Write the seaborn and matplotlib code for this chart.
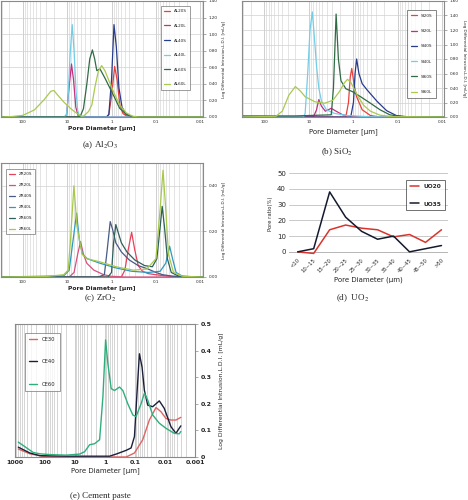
import matplotlib
matplotlib.use("Agg")
import matplotlib.pyplot as plt
import matplotlib.ticker as mticker
import numpy as np
import pandas as pd
import seaborn as sns

# ---- (a) Al2O3 : pore diameter [um] -> L.D.I. [mL/g]
AL_CURVES = {
    "AL20S": ([312, 1.3, 1.15, 1.0, 0.85, 0.75, 0.65, 0.55, 0.45, 0.35, 0.0086],
              [0, 0, 0.03, 0.25, 0.61, 0.45, 0.15, 0.04, 0.01, 0, 0]),
    "AL20L": ([312, 11.5, 10.3, 9.3, 8.0, 7.2, 6.4, 5.7, 5.0, 0.0086],
              [0, 0, 0.03, 0.3, 0.64, 0.45, 0.12, 0.02, 0, 0]),
    "AL40S": ([312, 1.3, 1.15, 1.0, 0.88, 0.78, 0.68, 0.58, 0.48, 0.38, 0.3, 0.0086],
              [0, 0, 0.03, 0.45, 1.115, 0.85, 0.35, 0.12, 0.04, 0.01, 0, 0]),
    "AL40L": ([312, 11.5, 10.5, 9.6, 8.6, 7.7, 7.0, 6.3, 5.8, 5.3, 4.5, 0.0086],
              [0, 0, 0.02, 0.2, 0.75, 1.115, 0.8, 0.3, 0.08, 0.01, 0, 0]),
    "AL60S": ([312, 6, 5.06, 4.3, 3.6, 3.1, 2.7, 2.4, 2.15, 1.82, 1.41, 1.09, 0.845, 0.655, 0.465, 0.337, 0.25, 0.0086],
              [0, 0, 0.01, 0.1, 0.4, 0.7, 0.81, 0.7, 0.56, 0.58, 0.47, 0.35, 0.23, 0.105, 0.03, 0.005, 0, 0]),
    "AL60L": ([312, 182, 100, 55, 33, 23.5, 19.9, 16.7, 11.9, 8.45, 6.55, 5.06, 4.3, 3.31, 2.78, 2.35, 1.99, 1.67,
               1.41, 1.09, 0.845, 0.655, 0.465, 0.337, 0.25, 0.0086],
              [0, 0.005, 0.02, 0.085, 0.21, 0.31, 0.32, 0.27, 0.18, 0.105, 0.057, 0.016, 0.01, 0.065, 0.145, 0.37,
               0.55, 0.62, 0.56, 0.41, 0.27, 0.145, 0.05, 0.01, 0, 0]),
}

# ---- (b) SiO2
SI_CURVES = {
    "SI20S": ([320, 1.47, 1.28, 1.17, 1.08, 0.96, 0.84, 0.63, 0.41, 0.25, 0.009],
              [0, 0, 0.2, 0.55, 0.67, 0.45, 0.28, 0.1, 0.02, 0, 0]),
    "SI20L": ([320, 7.9, 6.7, 5.96, 5.2, 4.25, 3.13, 2.43, 1.73, 1.14, 0.58, 0.009],
              [0, 0, 0.1, 0.24, 0.15, 0.08, 0.12, 0.08, 0.03, 0.01, 0, 0]),
    "SI40S": ([320, 1.14, 0.99, 0.91, 0.84, 0.745, 0.63, 0.49, 0.29, 0.177, 0.107, 0.054, 0.009],
              [0, 0, 0.2, 0.6, 0.8, 0.6, 0.46, 0.375, 0.215, 0.087, 0.02, 0, 0]),
    "SI40L": ([320, 13.2, 12.1, 10.6, 9.4, 8.35, 7.5, 6.7, 5.96, 5.2, 4.04, 2.65, 1.35, 0.41, 0.009],
              [0, 0, 0.05, 0.6, 1.2, 1.45, 1.1, 0.7, 0.4, 0.22, 0.1, 0.05, 0.02, 0.003, 0]),
    "SI60S": ([320, 20, 3.13, 2.79, 2.43, 2.16, 1.89, 1.47, 1.045, 0.685, 0.41, 0.25, 0.15, 0.076, 0.009],
              [0.015, 0.015, 0.03, 0.4, 1.42, 0.8, 0.5, 0.39, 0.35, 0.28, 0.19, 0.1, 0.03, 0.003, 0]),
    "SI60L": ([320, 55, 39.5, 28.2, 20.1, 15.6, 12.1, 7.3, 4.4, 2.88, 2.05, 1.59, 1.35, 1.14, 0.81, 0.58, 0.41,
               0.25, 0.126, 0.009],
              [0, 0.01, 0.08, 0.3, 0.42, 0.36, 0.28, 0.21, 0.19, 0.23, 0.35, 0.47, 0.52, 0.48, 0.3, 0.16, 0.08,
               0.025, 0.005, 0]),
}

# ---- (c) ZrO2
ZR_CURVES = {
    "ZR20S": ([312, 0.6, 0.5, 0.42, 0.352, 0.3, 0.25, 0.2, 0.15, 0.1, 0.05, 0.0086],
              [0, 0, 0.03, 0.12, 0.196, 0.12, 0.05, 0.025, 0.015, 0.01, 0.003, 0]),
    "ZR20L": ([312, 9, 7, 5.8, 5.0, 4.3, 3.6, 2.5, 1.5, 1.0, 0.5, 0.0086],
              [0, 0, 0.02, 0.1, 0.155, 0.1, 0.06, 0.03, 0.01, 0.003, 0, 0]),
    "ZR40S": ([312, 2, 1.45, 1.25, 1.07, 0.95, 0.8, 0.6, 0.4, 0.25, 0.15, 0.1, 0.07, 0.04, 0.0086],
              [0, 0, 0.01, 0.12, 0.243, 0.21, 0.15, 0.11, 0.075, 0.05, 0.035, 0.02, 0.01, 0.003, 0]),
    "ZR40L": ([312, 12, 9, 7.5, 6.14, 5.3, 4.5, 3.5, 1.8, 0.8, 0.35, 0.15, 0.08, 0.06, 0.049, 0.042, 0.035,
               0.025, 0.0086],
              [0, 0.005, 0.03, 0.15, 0.28, 0.16, 0.1, 0.08, 0.06, 0.04, 0.025, 0.02, 0.025, 0.06, 0.135, 0.08,
               0.02, 0.003, 0]),
    "ZR60S": ([312, 1.2, 1.0, 0.9, 0.8, 0.72, 0.6, 0.45, 0.3, 0.18, 0.12, 0.095, 0.08, 0.072, 0.064, 0.055,
               0.045, 0.03, 0.0086],
              [0, 0, 0.02, 0.15, 0.23, 0.2, 0.15, 0.11, 0.075, 0.05, 0.045, 0.08, 0.22, 0.31, 0.22, 0.08,
               0.02, 0.003, 0]),
    "ZR60L": ([312, 30, 12, 9.5, 8.5, 7.05, 6.0, 4.6, 3.55, 1.79, 0.76, 0.32, 0.16, 0.1, 0.08, 0.069, 0.06,
               0.052, 0.04, 0.025, 0.0086],
              [0, 0.002, 0.01, 0.03, 0.15, 0.40, 0.22, 0.1, 0.08, 0.066, 0.044, 0.03, 0.035, 0.08, 0.3, 0.468,
               0.3, 0.1, 0.02, 0.003, 0]),
}

# ---- (d) UO2 pore size distribution
UO_BINS = ["<10", "10~15", "15~20", "20~25", "25~30", "30~35", "35~40", "40~45", "45~50", ">50"]
UO20 = [0, -1, 14, 17, 15, 14, 9.5, 11, 6, 14]
UO35 = [0, 2, 38, 22, 13, 8, 10, 0, 2, 4]

# ---- (e) cement paste
CE_CURVES = {
    "CE30": ([776, 318, 115, 19.4, 1.0, 0.199, 0.105, 0.0557, 0.0335, 0.0201, 0.0137, 0.0094, 0.0064, 0.00437, 0.003],
             [0.03, 0.012, 0.002, 0.0, 0.0, 0.0, 0.015, 0.065, 0.139, 0.186, 0.17, 0.145, 0.139, 0.139, 0.149]),
    "CE40": ([776, 318, 148, 19.4, 1.0, 0.71, 0.427, 0.199, 0.136, 0.105, 0.088, 0.0718, 0.0586, 0.049, 0.038,
              0.026, 0.0156, 0.0107, 0.0064, 0.00437, 0.003],
             [0.037, 0.015, 0.005, 0.003, 0.003, 0.003, 0.011, 0.025, 0.034, 0.077, 0.226, 0.388, 0.338, 0.25,
              0.195, 0.189, 0.211, 0.183, 0.114, 0.089, 0.117]),
    "CE60": ([776, 247, 148, 69, 19.4, 7.0, 4.78, 3.27, 2.23, 1.52, 1.18, 0.96, 0.805, 0.625, 0.484, 0.33, 0.256,
              0.175, 0.119, 0.0927, 0.0632, 0.049, 0.038, 0.026, 0.0156, 0.0094, 0.00497, 0.00339, 0.003],
             [0.056, 0.017, 0.012, 0.009, 0.007, 0.011, 0.02, 0.046, 0.05, 0.065, 0.226, 0.44, 0.35, 0.257, 0.25,
              0.263, 0.25, 0.2, 0.158, 0.152, 0.2, 0.24, 0.214, 0.158, 0.127, 0.108, 0.089, 0.087, 0.096]),
}

SIX_COLORS = ["#e8413c", "#c2307e", "#283c8c", "#74cde6", "#2f6b45", "#a9c94f"]
ZR_COLORS = ["#e8415a", "#d9507e", "#4a5a86", "#2f97c4", "#2f5f5a", "#a6c94a"]
UO_COLORS = ["#d9342b", "#141a2e"]
CE_COLORS = ["#e06464", "#1b1f3a", "#2fae7c"]

LDI_LABEL = "Log Differential Intrusion,L.D.I. [mL/g]"


def long_form(curves):
    rows = []
    for name, (diam, ldi) in curves.items():
        for d, v in zip(diam, ldi):
            rows.append({"sample": name, "diameter": d, "ldi": v})
    return pd.DataFrame(rows)


def draw_curves(ax, curves, colors, lw=0.9):
    df = long_form(curves)
    sns.lineplot(data=df, x="diameter", y="ldi", hue="sample", palette=colors,
                 sort=False, estimator=None, lw=lw, ax=ax, legend="full")
    ax.set_xscale("log")


def restyle_legend(ax, **kw):
    old = ax.get_legend()
    handles = old.legend_handles
    labels = [t.get_text() for t in old.get_texts()]
    old.remove()
    leg = ax.legend(handles, labels, frameon=True, fancybox=False, **kw)
    leg.get_frame().set_linewidth(0.6)
    return leg


def log_axes(ax, xlim, xticks, xlabels, ylim, yticks, ylabels, fs, grid_y=True):
    ax.set_xlim(*xlim)
    ax.set_ylim(*ylim)
    ax.xaxis.set_major_locator(mticker.FixedLocator(xticks))
    ax.xaxis.set_major_formatter(mticker.FixedFormatter(xlabels))
    ax.xaxis.set_minor_locator(mticker.LogLocator(base=10, subs=np.arange(2, 10), numticks=20))
    ax.xaxis.set_minor_formatter(mticker.NullFormatter())
    ax.yaxis.set_major_locator(mticker.FixedLocator(yticks))
    ax.yaxis.set_major_formatter(mticker.FixedFormatter(ylabels))
    ax.yaxis.tick_right()
    ax.yaxis.set_label_position("right")
    ax.tick_params(axis="x", which="both", length=0, labelsize=fs, pad=2)
    ax.tick_params(axis="y", length=2, width=0.5, labelsize=fs, pad=2, color="#888888")
    ax.grid(True, which="major", axis="x", color="#c8c8c8", lw=0.6)
    ax.grid(True, which="minor", axis="x", color="#d4d4d4", lw=0.45)
    if grid_y:
        ax.grid(True, which="major", axis="y", color="#d0d0d0", lw=0.5)
    for s in ax.spines.values():
        s.set_color("#8a8a8a")
        s.set_linewidth(0.8)


sns.set_style("white")
plt.rcParams["font.family"] = ["DejaVu Sans"]
plt.rcParams["mathtext.fontset"] = "stix"
CAP = dict(ha="center", va="center", fontsize=6.5, family=["Liberation Serif", "DejaVu Serif"])

fig = plt.figure(figsize=(4.68, 5.0), dpi=100)

# (a)
ax = fig.add_axes([0.002, 0.766, 0.432, 0.232])
draw_curves(ax, AL_CURVES, SIX_COLORS)
log_axes(ax, (312, 0.0086), [100, 10, 1, 0.1, 0.01], ["100", "10", "1", "0.1", "0.01"],
         (0, 1.4), np.arange(0, 1.41, 0.2), [f"{v:.2f}" for v in np.arange(0, 1.41, 0.2)], 3)
ax.set_xlabel("Pore Diameter [\u03bcm]", fontsize=4.3, fontweight="bold", labelpad=1.5)
ax.set_ylabel(LDI_LABEL, fontsize=3, labelpad=3)
restyle_legend(ax, loc="upper right", bbox_to_anchor=(0.945, 0.975), fontsize=3, labelspacing=2.55,
               handlelength=1.5, borderpad=0.8, edgecolor="#707070")
fig.text(0.214, 0.71, "(a) Al$_2$O$_3$", **CAP)

# (b)
ax = fig.add_axes([0.517, 0.766, 0.432, 0.232])
draw_curves(ax, SI_CURVES, SIX_COLORS)
log_axes(ax, (320, 0.009), [100, 10, 1, 0.1, 0.01], ["100", "10", "1", "0.1", "0.01"],
         (0, 1.6), np.arange(0, 1.61, 0.2), [f"{v:.2f}" for v in np.arange(0, 1.61, 0.2)], 3)
ax.set_xlabel("Pore Diameter [\u03bcm]", fontsize=5, labelpad=3)
ax.set_ylabel(LDI_LABEL, fontsize=3, labelpad=2, rotation=270, va="bottom")
restyle_legend(ax, loc="upper right", bbox_to_anchor=(0.97, 0.94), fontsize=3, labelspacing=2.7,
               handlelength=1.5, borderpad=0.9, edgecolor="#505050")
fig.text(0.72, 0.696, "(b) SiO$_2$", **CAP)

# (c)
ax = fig.add_axes([0.002, 0.446, 0.432, 0.228])
draw_curves(ax, ZR_CURVES, ZR_COLORS)
log_axes(ax, (312, 0.0086), [100, 10, 1, 0.1, 0.01], ["100", "10", "1", "0.1", "0.01"],
         (0, 0.5), [0, 0.2, 0.4], ["0.00", "0.20", "0.40"], 3)
ax.set_xlabel("Pore Diameter [\u03bcm]", fontsize=4.3, fontweight="bold", labelpad=1.5)
ax.set_ylabel(LDI_LABEL, fontsize=3, labelpad=3)
restyle_legend(ax, loc="upper left", bbox_to_anchor=(0.015, 0.965), fontsize=3, labelspacing=1.7,
               handlelength=1.5, borderpad=0.7, edgecolor="#707070")
fig.text(0.214, 0.404, "(c) ZrO$_2$", **CAP)

# (d)
ax = fig.add_axes([0.617, 0.49, 0.340, 0.164])
uo = pd.DataFrame({"bin": UO_BINS * 2,
                   "ratio": UO20 + UO35,
                   "sample": ["UO20"] * len(UO_BINS) + ["UO35"] * len(UO_BINS)})
sns.lineplot(data=uo, x="bin", y="ratio", hue="sample", palette=UO_COLORS, sort=False,
             estimator=None, lw=1.1, ax=ax, legend="full")
ax.set_xlim(-0.56, 9.4)
ax.set_ylim(-2, 50)
ax.set_yticks([0, 10, 20, 30, 40, 50])
ax.tick_params(axis="both", length=0, labelsize=5, pad=2)
ax.tick_params(axis="x", labelsize=3.8)
plt.setp(ax.get_xticklabels(), rotation=45, ha="right", rotation_mode="anchor")
ax.grid(True, axis="y", color="#c0c0c0", lw=0.6)
for s in ax.spines.values():
    s.set_visible(False)
ax.axhline(0, color="#8a8a8a", lw=0.7, zorder=0)
ax.set_xlabel("Pore Diameter (\u03bcm)", fontsize=5, labelpad=2)
ax.set_ylabel("Pore ratio(%)", fontsize=3.8, labelpad=3)
leg = restyle_legend(ax, loc="upper right", bbox_to_anchor=(1.0, 0.95), fontsize=4.2, labelspacing=2.2,
                     handlelength=1.6, borderpad=0.6, edgecolor="#303030")
for t in leg.get_texts():
    t.set_fontweight("bold")
fig.text(0.754, 0.404, "(d)  UO$_2$", **CAP)

# (e)
ax = fig.add_axes([0.032, 0.086, 0.385, 0.266])
draw_curves(ax, CE_CURVES, CE_COLORS, lw=1.0)
log_axes(ax, (1000, 0.001), [1000, 100, 10, 1, 0.1, 0.01, 0.001],
         ["1000", "100", "10", "1", "0.1", "0.01", "0.001"],
         (0, 0.5), [0, 0.1, 0.2, 0.3, 0.4, 0.5], ["0", "0.1", "0.2", "0.3", "0.4", "0.5"], 4.5, grid_y=False)
ax.grid(True, which="minor", axis="x", color="#cfcfcf", lw=0.6)
ax.tick_params(axis="both", labelsize=4.5)
for t in ax.get_xticklabels() + ax.get_yticklabels():
    t.set_fontweight("bold")
ax.set_xlabel("Pore Diameter [\u03bcm]", fontsize=5, labelpad=2)
ax.set_ylabel(LDI_LABEL, fontsize=4.4, labelpad=5)
restyle_legend(ax, loc="upper left", bbox_to_anchor=(0.04, 0.955), fontsize=3.8, labelspacing=3.3,
               handlelength=1.6, borderpad=0.8, edgecolor="#707070")
fig.text(0.214, 0.008, "(e) Cement paste", **CAP)

fig.savefig("out.png", dpi=100)
